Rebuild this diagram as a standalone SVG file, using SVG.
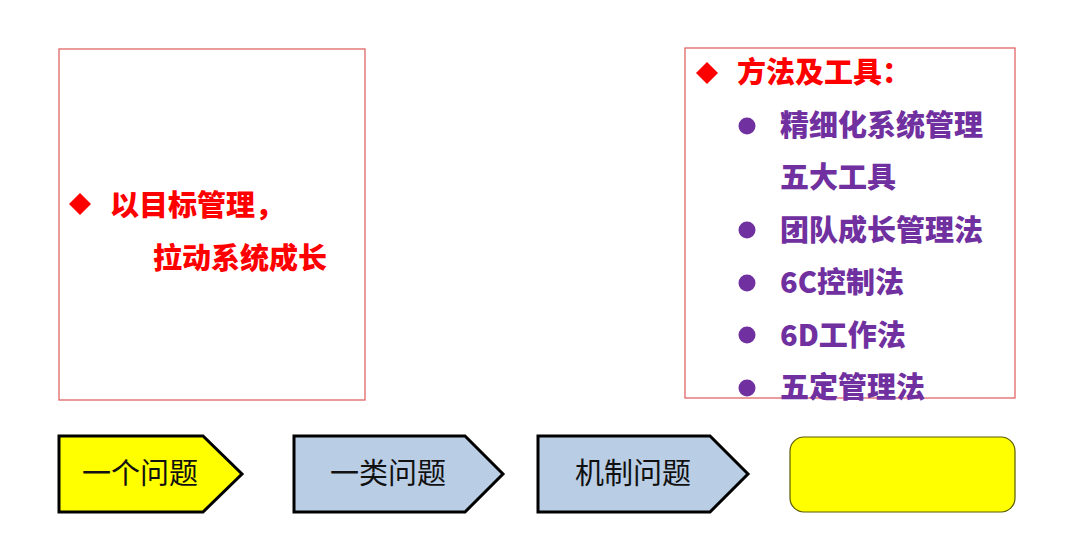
<svg xmlns="http://www.w3.org/2000/svg" width="1080" height="537" viewBox="0 0 1080 537">
<style>
.frame{fill:#fff;stroke:#E06666;stroke-width:1.3}
.red{fill:#FF0000;font-family:"Noto Sans CJK SC","Noto Sans",sans-serif;font-weight:900;font-size:29px}
.pur{fill:#7030A0;font-family:"Noto Sans CJK SC","Noto Sans",sans-serif;font-weight:900;font-size:29px}
.arr{stroke:#000;stroke-width:3;stroke-linejoin:miter}
.lbl{fill:#111;font-family:"Noto Sans CJK SC","Noto Sans",sans-serif;font-size:29px;text-anchor:middle}
</style>
<rect width="1080" height="537" fill="#fff"/>
<g id="left-box">
<rect class="frame" x="59" y="49" width="306" height="351"/>
<path d="M80 193 L91 204 L80 215 L69 204 Z" fill="#FF0000"/>
<text class="red" x="110" y="216">以目标管理，</text>
<text class="red" x="153" y="269">拉动系统成长</text>
</g>
<g id="right-box">
<rect class="frame" x="685" y="48" width="330" height="350"/>
<path d="M707 62 L718 73 L707 84 L696 73 Z" fill="#FF0000"/>
<text class="red" x="737" y="83">方法及工具：</text>
<g fill="#7030A0">
<circle cx="747" cy="126" r="8.5"/>
<circle cx="747" cy="230" r="8.5"/>
<circle cx="747" cy="283" r="8.5"/>
<circle cx="747" cy="335" r="8.5"/>
<circle cx="747" cy="388" r="8.5"/>
</g>
<text class="pur" x="780" y="136">精细化系统管理</text>
<text class="pur" x="780" y="188">五大工具</text>
<text class="pur" x="780" y="241">团队成长管理法</text>
<text class="pur" x="780" y="293">6C控制法</text>
<text class="pur" x="780" y="346">6D工作法</text>
<text class="pur" x="780" y="398">五定管理法</text>
</g>
<g id="step1">
<path class="arr" d="M59 436 L203 436 L242 474 L203 512 L59 512 Z" fill="#FFFF00"/>
<text class="lbl" x="140" y="484">一个问题</text>
</g>
<g id="step2">
<path class="arr" d="M294 436 L465 436 L503 474 L465 512 L294 512 Z" fill="#B9CDE5"/>
<text class="lbl" x="388" y="484">一类问题</text>
</g>
<g id="step3">
<path class="arr" d="M538 436 L710 436 L748 474 L710 512 L538 512 Z" fill="#B9CDE5"/>
<text class="lbl" x="633" y="484">机制问题</text>
</g>
<g id="step4">
<rect x="790" y="437" width="225" height="75" rx="14" fill="#FFFF00" stroke="#5a5a00" stroke-width="1.2"/>
</g>
<g id="connectors"></g>
</svg>
